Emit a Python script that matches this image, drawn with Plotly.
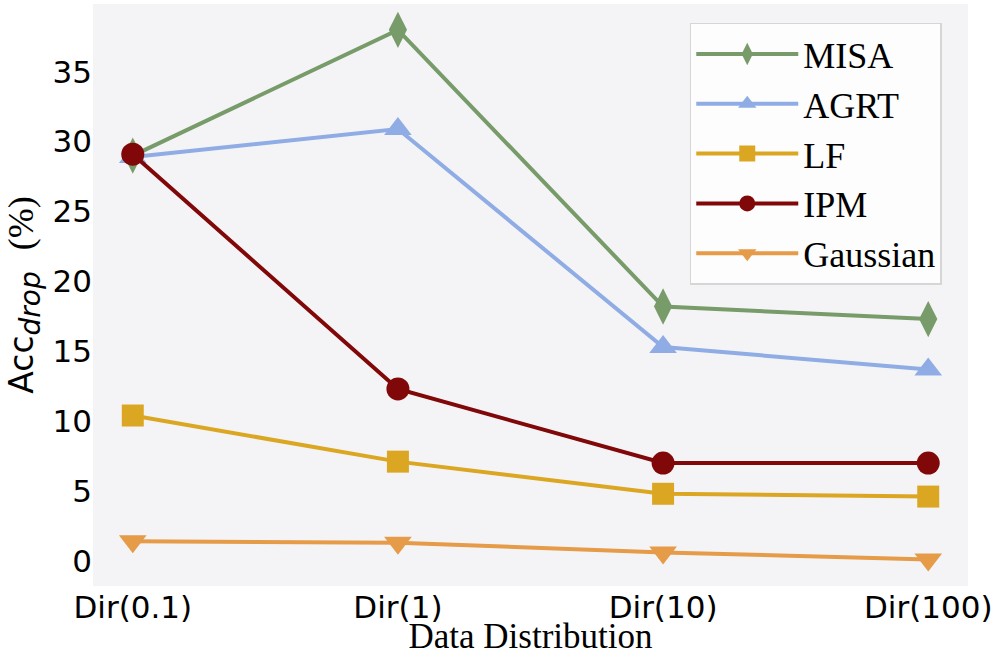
import plotly.graph_objects as go

categories = ["Dir(0.1)", "Dir(1)", "Dir(10)", "Dir(100)"]
misa = [29.0, 38.0, 18.2, 17.3]
agrt = [28.9, 30.9, 15.3, 13.7]
lf = [10.4, 7.1, 4.8, 4.6]
ipm = [29.1, 12.3, 7.0, 7.0]
gaussian = [1.4, 1.3, 0.6, 0.1]
y_ticks = [0, 5, 10, 15, 20, 25, 30, 35]

series = [
    ("MISA", misa, "#789b6a", "diamond-tall", 26),
    ("AGRT", agrt, "#8fade4", "triangle-up", 24),
    ("LF", lf, "#dba723", "square", 22),
    ("IPM", ipm, "#800808", "circle", 23),
    ("Gaussian", gaussian, "#e59b48", "triangle-down", 24),
]

x_idx = list(range(len(categories)))

fig = go.Figure()
for name, vals, color, sym, size in series:
    fig.add_trace(go.Scatter(
        x=x_idx, y=vals, name=name, mode="lines+markers",
        line=dict(color=color, width=4),
        marker=dict(symbol=sym, size=size, color=color, line=dict(width=0)),
    ))

ytitle = ("Acc<sub><span style='font-size:28px'><i>drop</i></span></sub>&nbsp; "
          "<span style='font-family:Liberation Serif;font-size:36px'>(%)</span>")

fig.update_layout(
    width=996, height=656,
    margin=dict(l=93, r=28, t=4, b=70, autoexpand=False),
    paper_bgcolor="white",
    plot_bgcolor="#f4f4f7",
    showlegend=True,
    legend=dict(
        x=0.682, y=0.968, xanchor="left", yanchor="top",
        bgcolor="rgba(253,253,253,0.95)",
        bordercolor="#d6d6d6", borderwidth=1.5,
        font=dict(family="Liberation Serif, Times New Roman, serif", size=36, color="black"),
        itemwidth=102,
        tracegroupgap=0,
    ),
    xaxis=dict(
        range=[-0.15, 3.15], automargin=False,
        tickmode="array", tickvals=x_idx, ticktext=categories,
        showgrid=False, zeroline=False, showline=False, ticks="",
        tickfont=dict(family="DejaVu Sans", size=31, color="black"),
        title=dict(text="Data Distribution",
                   font=dict(family="Liberation Serif, Times New Roman, serif", size=35, color="black"),
                   standoff=8),
    ),
    yaxis=dict(
        range=[-1.8, 39.85], automargin=False,
        tickmode="array", tickvals=y_ticks,
        showgrid=False, zeroline=False, showline=False, ticks="",
        tickfont=dict(family="DejaVu Sans", size=31, color="black"),
        title=dict(text=ytitle,
                   font=dict(family="DejaVu Sans", size=33, color="black"),
                   standoff=8),
    ),
)

fig.write_html("out.html", config={"displayModeBar": False},
               post_script="document.body.style.margin='0';document.body.style.overflow='hidden';")
